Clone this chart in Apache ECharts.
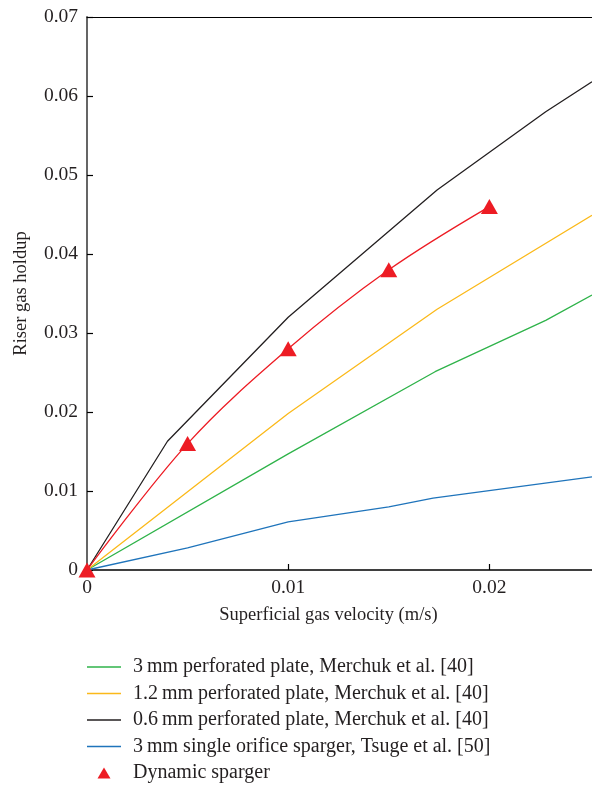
<!DOCTYPE html>
<html>
<head>
<meta charset="utf-8">
<title>Riser gas holdup</title>
<script src="https://cdn.jsdelivr.net/npm/echarts@6/dist/echarts.min.js"></script>
<style>
  html, body { margin: 0; padding: 0; background: #fff; }
  #main { width: 592px; height: 788px; }
</style>
</head>
<body>
<div id="main"></div>
<script>
// data: [superficial gas velocity (m/s), riser gas holdup]
const plate3mm = [[0, 0], [0.01, 0.0147], [0.0173, 0.0251], [0.0228, 0.0316], [0.0251, 0.0348]];
const plate12mm = [[0, 0], [0.01, 0.0198], [0.0174, 0.033], [0.0251, 0.0449]];
const plate06mm = [[0, 0], [0.004, 0.0163], [0.01, 0.032], [0.0174, 0.0481], [0.0228, 0.058], [0.0251, 0.0618]];
const orifice3mm = [[0, 0], [0.005, 0.0028], [0.01, 0.0061], [0.015, 0.008], [0.0172, 0.0091], [0.0251, 0.0118]];
const dynamicSparger = [[0, 0], [0.005, 0.016], [0.01, 0.028], [0.015, 0.038], [0.02, 0.046]];

const xTicks = [0, 0.01, 0.02];
const yTicks = [0, 0.01, 0.02, 0.03, 0.04, 0.05, 0.06, 0.07];

const seriesNames = [
  '3\u2009mm perforated plate, Merchuk et al. [40]',
  '1.2\u2009mm perforated plate, Merchuk et al. [40]',
  '0.6\u2009mm perforated plate, Merchuk et al. [40]',
  '3\u2009mm single orifice sparger, Tsuge et al. [50]',
  'Dynamic sparger'
];
const colors = ['#2fb34a', '#fbb91a', '#231f20', '#1f74bb', '#ed1c24'];

const FONT = '"Liberation Serif", "DejaVu Serif", serif';
const TEXT = '#231f20';
// path icons keep their aspect in the legend, builtin ones get stretched
const LINE_ICON = 'path://M0,0L34,0L34,1.3L0,1.3Z';
const TRI_ICON = 'path://M0,11L6.5,0L13,11Z';

function lineSeries(name, data, color) {
  return {
    name: name,
    type: 'line',
    data: data,
    symbol: 'none',
    lineStyle: { color: color, width: 1.3 },
    itemStyle: { color: color },
    z: 2
  };
}

function fmt(v) {
  return v === 0 ? '0' : v.toFixed(2);
}

let legendData = seriesNames.map(function (n, i) {
  return { name: n, icon: i < 4 ? LINE_ICON : TRI_ICON };
});

const chart = echarts.init(document.getElementById('main'));

chart.setOption({
  animation: false,
  backgroundColor: '#fff',
  textStyle: { fontFamily: FONT, color: TEXT },
  grid: { left: 87, right: 0, top: 17, bottom: 218, containLabel: false },
  legend: {
    orient: 'vertical',
    left: 87,
    top: 657,
    height: 140,
    padding: 0,
    itemWidth: 34,
    itemHeight: 11,
    itemGap: 6.5,
    symbolKeepAspect: true,
    data: legendData,
    textStyle: {
      fontFamily: FONT,
      fontSize: 20,
      color: TEXT,
      lineHeight: 20,
      padding: [0, 0, 0, 7]
    }
  },
  xAxis: [{
    type: 'value',
    min: 0,
    max: 0.0251,
    interval: 0.01,
    name: 'Superficial gas velocity (m/s)',
    nameLocation: 'middle',
    nameGap: 36,
    nameTextStyle: { fontFamily: FONT, fontSize: 18.5, color: TEXT, padding: [0, 22, 0, 0] },
    axisLine: { show: true, lineStyle: { color: '#000', width: 1.6 } },
    axisTick: { show: true, inside: true, length: 6, customValues: xTicks, lineStyle: { color: '#000', width: 1.2 } },
    axisLabel: { customValues: xTicks, margin: 8, fontFamily: FONT, fontSize: 19.5, color: TEXT, formatter: fmt },
    splitLine: { show: false }
  }, {
    type: 'value',
    position: 'top',
    min: 0,
    max: 0.0251,
    axisLine: { show: true, onZero: false, lineStyle: { color: '#000', width: 1 } },
    axisTick: { show: false },
    axisLabel: { show: false },
    splitLine: { show: false }
  }],
  yAxis: {
    type: 'value',
    min: 0,
    max: 0.07,
    interval: 0.01,
    name: 'Riser gas holdup',
    nameLocation: 'middle',
    nameGap: 56,
    nameTextStyle: { fontFamily: FONT, fontSize: 18.5, color: TEXT },
    axisLine: { show: true, lineStyle: { color: '#555', width: 1.8 } },
    axisTick: { show: true, inside: true, length: 6, customValues: yTicks, lineStyle: { color: '#000', width: 1.2 } },
    axisLabel: { customValues: yTicks, margin: 9, fontFamily: FONT, fontSize: 19.5, color: TEXT, formatter: fmt },
    splitLine: { show: false }
  },
  series: [
    lineSeries(seriesNames[0], plate3mm, colors[0]),
    lineSeries(seriesNames[1], plate12mm, colors[1]),
    lineSeries(seriesNames[2], plate06mm, colors[2]),
    lineSeries(seriesNames[3], orifice3mm, colors[3]),
    {
      // fitted curve through the dynamic sparger points (not in legend)
      name: 'dynamic-fit',
      type: 'line',
      data: dynamicSparger,
      symbol: 'none',
      smooth: 0.35,
      lineStyle: { color: colors[4], width: 1.3 },
      z: 3
    },
    {
      name: seriesNames[4],
      type: 'scatter',
      data: dynamicSparger,
      symbol: 'triangle',
      symbolSize: [17, 15],
      itemStyle: { color: colors[4], opacity: 1 },
      z: 4
    }
  ]
});
</script>
</body>
</html>
